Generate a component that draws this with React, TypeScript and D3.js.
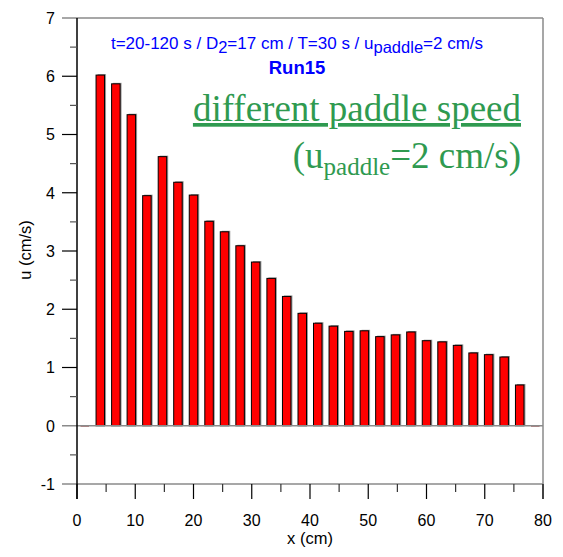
import React from 'react';
import * as d3 from 'd3';

// bin centres (cm) and mean velocity per bin (cm/s)
const xPos = [1.33, 4, 6.67, 9.33, 12, 14.67, 17.33, 20, 22.67, 25.33, 28, 30.67, 33.33, 36, 38.67,
  41.33, 44, 46.67, 49.33, 52, 54.67, 57.33, 60, 62.67, 65.33, 68, 70.67, 73.33, 76, 78.67];
const uVals = [0, 6.02, 5.87, 5.34, 3.95, 4.62, 4.18, 3.96, 3.51, 3.33, 3.09, 2.81, 2.53, 2.22, 1.93,
  1.76, 1.71, 1.62, 1.63, 1.53, 1.56, 1.61, 1.46, 1.44, 1.38, 1.25, 1.22, 1.18, 0.7, 0];
const xTicks = [0, 10, 20, 30, 40, 50, 60, 70, 80];
const yTicks = [-1, 0, 1, 2, 3, 4, 5, 6, 7];

const App = () => {
  const Width = 563;
  const Height = 557;
  const margin = { top: 18, right: 20, bottom: 73, left: 77 };
  const chartW = 466;
  const chartH = Height - margin.top - margin.bottom;

  const x = d3.scaleLinear().domain([0, 80]).range([0, chartW]);
  const y = d3.scaleLinear().domain([-1, 7]).range([chartH, 0]);
  const barW = 8.5;
  const sans = "'Liberation Sans', Arial, sans-serif";
  const serif = "'Liberation Serif', 'Times New Roman', serif";
  const green = '#2f9a50';
  const grey = '#8a8a8a';

  const xMinor = d3.range(5, 80, 10);
  const yMinor = d3.range(-0.5, 7, 1);

  const bars = xPos.map((xv, i) => {
    const v = uVals[i];
    const cx = x(xv);
    if (v <= 0) {
      return <line key={i} x1={cx - barW / 2} x2={cx + barW / 2} y1={y(0)} y2={y(0)} stroke="#8b0000" strokeWidth={1.5} />;
    }
    return (
      <g key={i}>
        <rect x={cx - barW / 2 + 1.5} y={y(v) - 1} width={barW} height={y(0) - y(v) + 1} fill="#9a9a9a" />
        <rect x={cx - barW / 2} y={y(v)} width={barW} height={y(0) - y(v)} fill="#ff0000" stroke="#000" strokeWidth={1} />
      </g>
    );
  });

  return (
    <svg width={Width} height={Height} style={{ position: 'absolute', left: 0, top: 0, background: '#fff' }}>
      <g transform={`translate(${margin.left}, ${margin.top})`}>
        {/* frame */}
        <line x1={-15} x2={chartW} y1={0} y2={0} stroke={grey} strokeWidth={1.5} />
        <line x1={-15} x2={chartW} y1={chartH} y2={chartH} stroke={grey} strokeWidth={1.5} />
        <line x1={chartW} x2={chartW} y1={0} y2={chartH + 15} stroke={grey} strokeWidth={1.5} />

        {bars}
        <line x1={-15} x2={chartW} y1={y(0)} y2={y(0)} stroke={grey} strokeWidth={1.5} />

        {/* y axis */}
        <line x1={0} x2={0} y1={0} y2={chartH + 15} stroke="#000" strokeWidth={1.5} />
        {yTicks.map((t) => (
          <g key={t}>
            {t > -1 && t < 7 && t !== 0 && <line x1={-15} x2={0} y1={y(t)} y2={y(t)} stroke="#000" strokeWidth={1.2} />}
            <text x={-22} y={y(t)} dy="0.36em" textAnchor="end" style={{ fontFamily: sans, fontSize: '16px' }}>{t}</text>
          </g>
        ))}
        {yMinor.map((t) => (
          <line key={t} x1={-7} x2={0} y1={y(t)} y2={y(t)} stroke="#555" strokeWidth={1.2} />
        ))}

        {/* x axis */}
        {xTicks.map((t) => (
          <g key={t} transform={`translate(${x(t)}, ${chartH})`}>
            <line y1={0} y2={15} stroke="#000" strokeWidth={1.2} />
            <text y={42} textAnchor="middle" style={{ fontFamily: sans, fontSize: '16px' }}>{t}</text>
          </g>
        ))}
        {xMinor.map((t) => (
          <line key={t} x1={x(t)} x2={x(t)} y1={chartH} y2={chartH + 8} stroke="#333" strokeWidth={1.2} />
        ))}
        <text x={233} y={544 - margin.top} textAnchor="middle" style={{ fontFamily: sans, fontSize: '16.5px' }}>x (cm)</text>
        <text transform={`translate(${25 - margin.left}, ${250 - margin.top}) rotate(-90)`} dy="0.36em" textAnchor="middle" style={{ fontFamily: sans, fontSize: '16.5px' }}>u (cm/s)</text>
      </g>

      {/* annotations */}
      <text x={297} y={49} textAnchor="middle" fill="#0000ff" style={{ fontFamily: sans, fontSize: '17px' }}>
        t=20-120 s / D<tspan dy={4} style={{ fontSize: '16.5px' }}>2</tspan>
        <tspan dy={-4}>=17 cm / T=30 s / u</tspan>
        <tspan dy={4} style={{ fontSize: '16.5px' }}>paddle</tspan>
        <tspan dy={-4}>=2 cm/s</tspan>
      </text>
      <text x={297} y={74} textAnchor="middle" fill="#0000ff" style={{ fontFamily: sans, fontSize: '18.5px', fontWeight: 'bold' }}>Run15</text>

      <text x={521} y={121} textAnchor="end" fill={green} textDecoration="underline" style={{ fontFamily: serif, fontSize: '37px' }}>different paddle speed</text>
      <text x={521} y={168} textAnchor="end" fill={green} style={{ fontFamily: serif, fontSize: '37px' }}>
        (u<tspan dy={7} style={{ fontSize: '25px' }}>paddle</tspan>
        <tspan dy={-7}>=2 cm/s)</tspan>
      </text>
    </svg>
  );
};

export default App;
